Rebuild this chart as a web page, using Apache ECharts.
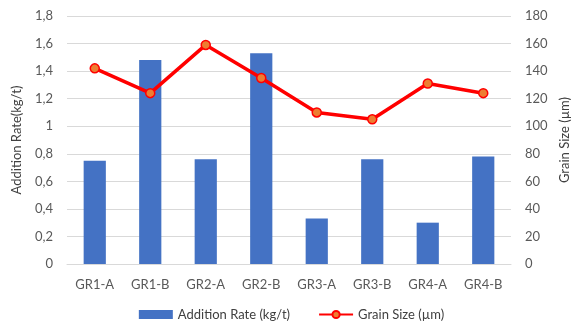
<!DOCTYPE html>
<html><head><meta charset="utf-8">
<script src="https://cdn.jsdelivr.net/npm/echarts@6/dist/echarts.min.js"></script>
<style>html,body{margin:0;padding:0;background:#fff}#c{width:583px;height:328px}</style>
</head><body><div id="c"></div>
<script>
const categories = ['GR1-A','GR1-B','GR2-A','GR2-B','GR3-A','GR3-B','GR4-A','GR4-B'];
const additionRate = [0.75,1.48,0.76,1.53,0.33,0.76,0.30,0.78];
const grainSize = [142,124,159,135,110,105,131,124];
const leftTicks = ['0','0,2','0,4','0,6','0,8','1','1,2','1,4','1,6','1,8'];

const font = 'Lato, "Open Sans", sans-serif';
const chart = echarts.init(document.getElementById('c'));
chart.setOption({
  animation:false,
  textStyle:{fontFamily:font},
  grid:{left:67,right:72,top:16,bottom:64},
  legend:{
    bottom:2, itemGap:28, itemWidth:34, itemHeight:9,
    textStyle:{fontSize:13,color:'#404040',fontFamily:font},
    data:[{name:'Addition Rate (kg/t)',icon:'rect'},{name:'Grain Size (µm)'}]
  },
  xAxis:{type:'category',data:categories,
    axisLine:{lineStyle:{color:'#d9d9d9'}},axisTick:{show:false},
    axisLabel:{color:'#595959',fontSize:13,margin:14,fontFamily:font}},
  yAxis:[
    {type:'value',min:0,max:1.8,interval:0.2,name:'Addition Rate(kg/t)',nameLocation:'middle',nameGap:44,
     nameTextStyle:{fontSize:13,color:'#404040',fontFamily:font},
     axisLabel:{color:'#595959',fontSize:13,margin:14,fontFamily:font,
       formatter:(v)=>leftTicks[Math.round(v/0.2)]},
     splitLine:{lineStyle:{color:'#d9d9d9'}}},
    {type:'value',min:0,max:180,interval:20,name:'Grain Size (µm)',nameLocation:'middle',nameGap:44,
     nameTextStyle:{fontSize:13,color:'#404040',fontFamily:font},
     axisLabel:{color:'#595959',fontSize:13,margin:14,fontFamily:font},
     splitLine:{show:false}}
  ],
  series:[
    {name:'Addition Rate (kg/t)',type:'bar',data:additionRate,barWidth:'40%',
     itemStyle:{color:'#4472C4'}},
    {name:'Grain Size (µm)',type:'line',yAxisIndex:1,data:grainSize,
     symbol:'circle',symbolSize:9,
     lineStyle:{color:'#FF0000',width:3.5},
     itemStyle:{color:'#ED7D31',borderColor:'#FF0000',borderWidth:1.5}}
  ]
});
</script></body></html>
